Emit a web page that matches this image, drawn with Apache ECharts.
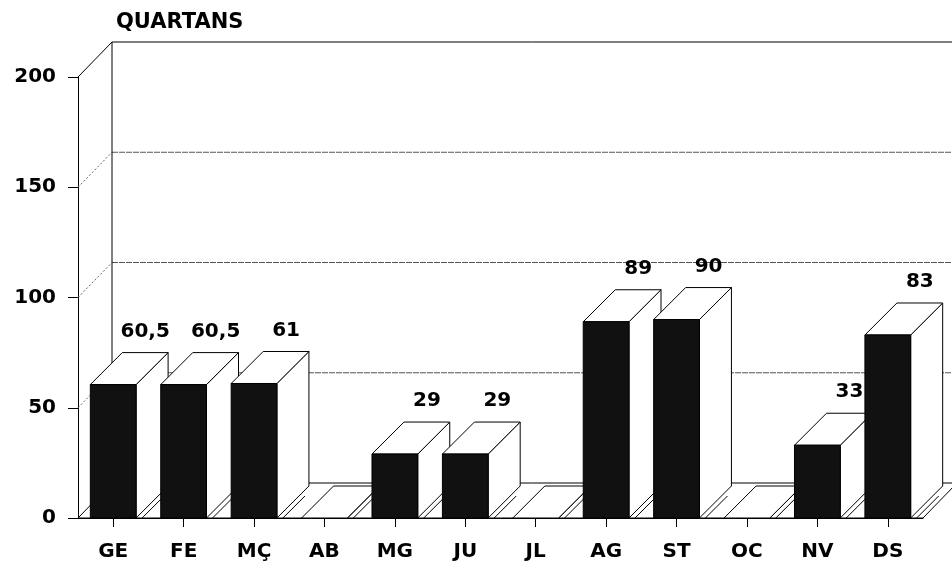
<!DOCTYPE html>
<html>
<head>
<meta charset="utf-8">
<script src="https://cdn.jsdelivr.net/npm/echarts@6/dist/echarts.min.js"></script>
<style>
  html, body { margin: 0; padding: 0; background: #fff; }
  #chart { width: 952px; height: 566px; }
</style>
</head>
<body>
<div id="chart"></div>
<script>
var categories = ['GE', 'FE', 'MÇ', 'AB', 'MG', 'JU', 'JL', 'AG', 'ST', 'OC', 'NV', 'DS'];
var values = [60.5, 60.5, 61, 0, 29, 29, 0, 89, 90, 0, 33, 83];
var yTicks = [0, 50, 100, 150, 200];

var FONT = '"DejaVu Sans", Arial, sans-serif';
// depth of the back wall and of each box
var wallDx = 34, wallDy = -35;
var barDx = 32, barDy = -32;

var renderWall = function (params, api) {
    var v = api.value(1);
    var band = api.size([1, 0])[0];
    var first = api.coord([0, v]);
    var last = api.coord([categories.length - 1, v]);
    var lx = first[0] - band / 2;
    var rx = last[0] + band / 2;
    var y = first[1];
    var bx = lx + wallDx, by = y + wallDy;
    var children = [];
    if (v === 0) {
        children.push({
            type: 'polygon',
            shape: { points: [[lx, y], [rx, y], [rx + wallDx, by], [bx, by]] },
            style: { fill: '#fff', stroke: '#000', lineWidth: 1 }
        });
        return { type: 'group', children: children };
    }
    var solid = v === yTicks[yTicks.length - 1];
    children.push({
        type: 'line',
        shape: { x1: lx, y1: y, x2: bx, y2: by },
        style: { stroke: solid ? '#000' : '#666', lineWidth: 1, lineDash: solid ? null : [2, 2] }
    });
    children.push({
        type: 'line',
        shape: { x1: bx, y1: by, x2: rx + wallDx + 40, y2: by },
        style: { stroke: solid ? '#000' : '#555', lineWidth: 1, lineDash: solid ? null : [6, 1] }
    });
    if (solid) {
        var zero = api.coord([0, 0]);
        children.push({
            type: 'line',
            shape: { x1: bx, y1: by, x2: bx, y2: zero[1] + wallDy },
            style: { stroke: '#000', lineWidth: 1 }
        });
    }
    return { type: 'group', children: children };
};

var renderBar = function (params, api) {
    var i = api.value(0), v = api.value(1);
    var base = api.coord([i, 0]);
    var top = api.coord([i, v]);
    var bw = api.size([1, 0])[0] * 0.65;
    var x0 = base[0] - bw / 2, x1 = base[0] + bw / 2;
    var y0 = base[1], y1 = top[1];
    var line = { stroke: '#000', lineWidth: 1 };
    var children = [
        {
            type: 'polygon',
            shape: { points: [[x1, y1], [x1 + barDx, y1 + barDy], [x1 + barDx, y0 + barDy], [x1, y0]] },
            style: { fill: '#fff', stroke: '#000', lineWidth: 1 }
        },
        {
            type: 'polygon',
            shape: { points: [[x0, y1], [x0 + barDx, y1 + barDy], [x1 + barDx, y1 + barDy], [x1, y1]] },
            style: { fill: '#fff', stroke: '#000', lineWidth: 1 }
        },
        {
            type: 'line',
            shape: { x1: x1 + 6, y1: y0, x2: x1 + 6 + 22, y2: y0 - 22 },
            style: line
        }
    ];
    if (v > 0) {
        children.push({
            type: 'rect',
            shape: { x: x0, y: y1, width: bw, height: y0 - y1 },
            style: { fill: '#111', stroke: '#000', lineWidth: 1 }
        });
        children.push({
            type: 'text',
            x: base[0] + barDx,
            y: y1 + barDy - 11,
            style: {
                text: String(v).replace('.', ','),
                align: 'center',
                verticalAlign: 'bottom',
                font: 'bold 20px ' + FONT,
                fill: '#000'
            }
        });
    }
    return { type: 'group', children: children };
};

var chart = echarts.init(document.getElementById('chart'));
chart.setOption({
    animation: false,
    backgroundColor: '#fff',
    title: {
        text: 'QUARTANS',
        left: 111,
        top: 7,
        textStyle: { fontFamily: FONT, fontSize: 21, fontWeight: 'bold', color: '#000' }
    },
    grid: { left: 78, right: 29, top: 77, bottom: 48 },
    xAxis: {
        type: 'category',
        data: categories,
        axisLine: { show: true, lineStyle: { color: '#000', width: 1 } },
        axisTick: { show: true, alignWithLabel: true, length: 9, lineStyle: { color: '#000' } },
        axisLabel: { margin: 24, fontFamily: FONT, fontSize: 20, fontWeight: 'bold', color: '#000' },
        splitLine: { show: false }
    },
    yAxis: {
        type: 'value',
        min: 0,
        max: 200,
        interval: 50,
        axisLine: { show: true, lineStyle: { color: '#000', width: 1 } },
        axisTick: { show: true, length: 10, lineStyle: { color: '#000' } },
        axisLabel: { margin: 22, fontFamily: FONT, fontSize: 20, fontWeight: 'bold', color: '#000' },
        splitLine: { show: false }
    },
    series: [
        {
            type: 'custom',
            clip: false,
            z: 1,
            renderItem: renderWall,
            encode: { x: 0, y: 1 },
            data: yTicks.map(function (t) { return [0, t]; })
        },
        {
            type: 'custom',
            clip: false,
            z: 3,
            renderItem: renderBar,
            encode: { x: 0, y: 1 },
            data: values.map(function (v, i) { return [i, v]; })
        }
    ]
});
</script>
</body>
</html>
